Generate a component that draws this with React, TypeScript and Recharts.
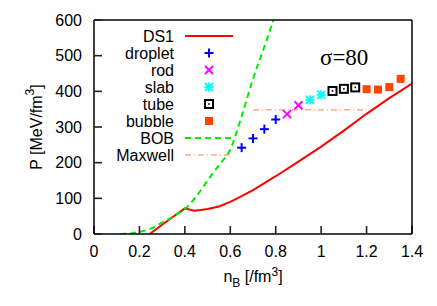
import React from "react";
import { ComposedChart, Line, Scatter, XAxis, YAxis } from "recharts";

const ds1 = [
  { x: 0.245, p: 0 }, { x: 0.3, p: 26 }, { x: 0.35, p: 49 }, { x: 0.4, p: 72 },
  { x: 0.44, p: 65 }, { x: 0.47, p: 67 }, { x: 0.5, p: 70 }, { x: 0.55, p: 77 },
  { x: 0.6, p: 90 }, { x: 0.65, p: 106 }, { x: 0.7, p: 123 }, { x: 0.8, p: 162 },
  { x: 0.9, p: 203 }, { x: 1.0, p: 245 }, { x: 1.1, p: 290 }, { x: 1.2, p: 337 },
  { x: 1.3, p: 381 }, { x: 1.4, p: 422 },
];
const bob = [
  { x: 0.115, p: 0 }, { x: 0.15, p: 1 }, { x: 0.2, p: 6 }, { x: 0.25, p: 15 },
  { x: 0.3, p: 32 }, { x: 0.35, p: 50 }, { x: 0.4, p: 70 }, { x: 0.45, p: 105 },
  { x: 0.5, p: 150 }, { x: 0.55, p: 193 }, { x: 0.6, p: 237 }, { x: 0.65, p: 330 },
  { x: 0.7, p: 435 }, { x: 0.75, p: 525 }, { x: 0.79, p: 600 },
];
const maxwell = [{ x: 0.7, p: 348 }, { x: 1.2, p: 348 }];
const droplet = [{ x: 0.65, p: 242 }, { x: 0.7, p: 268 }, { x: 0.75, p: 294 }, { x: 0.8, p: 321 }];
const rod = [{ x: 0.85, p: 336 }, { x: 0.9, p: 361 }];
const slab = [{ x: 0.95, p: 376 }, { x: 1.0, p: 390 }];
const tube = [{ x: 1.05, p: 401 }, { x: 1.1, p: 407 }, { x: 1.15, p: 411 }];
const bubble = [{ x: 1.2, p: 406 }, { x: 1.25, p: 405 }, { x: 1.3, p: 412 }, { x: 1.35, p: 435 }];

const xTicks = [0, 0.2, 0.4, 0.6, 0.8, 1, 1.2, 1.4];
const yTicks = [0, 100, 200, 300, 400, 500, 600];
const legendNames = ["DS1", "droplet", "rod", "slab", "tube", "bubble", "BOB", "Maxwell"];

const FONT = "'Liberation Sans', Arial, sans-serif";
const C = {
  ds1: "#ff0000", droplet: "#0000ff", rod: "#ff00ff", slab: "#00ffff",
  tube: "#000000", bubble: "#ff4500", bob: "#00ee00", maxwell: "#ff7f50",
};

function Plus({ cx, cy }: any) {
  return (
    <g stroke={C.droplet} strokeWidth={2}>
      <line x1={cx - 4.5} y1={cy} x2={cx + 4.5} y2={cy} />
      <line x1={cx} y1={cy - 4.5} x2={cx} y2={cy + 4.5} />
    </g>
  );
}
function Cross({ cx, cy }: any) {
  return (
    <g stroke={C.rod} strokeWidth={2}>
      <line x1={cx - 4} y1={cy - 4} x2={cx + 4} y2={cy + 4} />
      <line x1={cx - 4} y1={cy + 4} x2={cx + 4} y2={cy - 4} />
    </g>
  );
}
function Star({ cx, cy }: any) {
  return (
    <g stroke={C.slab} strokeWidth={2}>
      <line x1={cx - 4.5} y1={cy} x2={cx + 4.5} y2={cy} />
      <line x1={cx} y1={cy - 4.5} x2={cx} y2={cy + 4.5} />
      <line x1={cx - 4} y1={cy - 4} x2={cx + 4} y2={cy + 4} />
      <line x1={cx - 4} y1={cy + 4} x2={cx + 4} y2={cy - 4} />
    </g>
  );
}
function Box({ cx, cy }: any) {
  return (
    <g>
      <rect x={cx - 4} y={cy - 4} width={8} height={8} fill="none" stroke={C.tube} strokeWidth={2} />
      <rect x={cx - 0.8} y={cy - 0.8} width={1.6} height={1.6} fill={C.tube} />
    </g>
  );
}
function Filled({ cx, cy }: any) {
  return <rect x={cx - 4} y={cy - 4} width={8} height={8} fill={C.bubble} />;
}

const markers: Record<string, any> = { droplet: Plus, rod: Cross, slab: Star, tube: Box, bubble: Filled };

// plot box (from the axes set up below)
const PL = 94, PR = 412, PT = 20, PB = 234;

function KeyBox() {
  const ycx = 36, ycy = (PT + PB) / 2;
  return (
    <svg width={437} height={306} style={{ position: "absolute", left: 0, top: 0, pointerEvents: "none" }}>
      {legendNames.map((name, i) => {
        const y = 36 + i * 17;
        let sample: any = null;
        if (name === "DS1") sample = <line x1={185} y1={y} x2={233} y2={y} stroke={C.ds1} strokeWidth={2} />;
        else if (name === "BOB") sample = <line x1={185} y1={y} x2={233} y2={y} stroke={C.bob} strokeWidth={2} strokeDasharray="6 4" />;
        else if (name === "Maxwell") sample = <line x1={185} y1={y} x2={233} y2={y} stroke={C.maxwell} strokeWidth={1} strokeDasharray="6 3 1 3" />;
        else {
          const M = markers[name];
          sample = <M cx={209} cy={y} />;
        }
        return (
          <g key={name}>
            <text x={174} y={y + 5.5} textAnchor="end" fontSize={16} fontFamily={FONT} fill="#000">{name}</text>
            {sample}
          </g>
        );
      })}
      <text x={320} y={65} fontSize={23} fontFamily="'Liberation Serif', 'Times New Roman', serif" fill="#000">σ=80</text>
      <text x={ycx} y={ycy} transform={`rotate(-90, ${ycx}, ${ycy})`} textAnchor="middle" dominantBaseline="central"
        fontSize={16} fontFamily={FONT} fill="#000">
        P [MeV/fm<tspan dy={-6} fontSize={12}>3</tspan><tspan dy={6}>]</tspan>
      </text>
      <text x={(PL + PR) / 2} y={PB + 48} textAnchor="middle" fontSize={16} fontFamily={FONT} fill="#000">
        n<tspan dy={5} fontSize={12}>B</tspan><tspan dy={-5}> [/fm</tspan><tspan dy={-6} fontSize={12}>3</tspan><tspan dy={6}>]</tspan>
      </text>
    </svg>
  );
}

function BottomTick({ x, y, payload }: any) {
  return <text x={x} y={y} dy={5} textAnchor="middle" fontSize={16} fontFamily={FONT} fill="#000">{String(payload.value)}</text>;
}
function LeftTick({ x, y, payload }: any) {
  return <text x={x} y={y} dy={5.5} textAnchor="end" fontSize={16} fontFamily={FONT} fill="#000">{String(payload.value)}</text>;
}
function NoLabel() {
  return <g />;
}

const axisLine = { stroke: "#000", strokeWidth: 1.5 };
const tickLine = { stroke: "#222", strokeWidth: 1.6 };

export default function App() {
  return (
    <div style={{ position: "absolute", left: 0, top: 0, width: 437, height: 306, background: "#fff" }}>
      <ComposedChart width={437} height={306} margin={{ top: 0, right: 0, bottom: 32, left: 0 }}>
        <XAxis xAxisId="b" type="number" dataKey="x" domain={[0, 1.4]} ticks={xTicks} orientation="bottom"
          height={40} tickSize={-8} tickMargin={26} tick={BottomTick} tickLine={tickLine} axisLine={axisLine}
          allowDataOverflow interval={0} />
        <XAxis xAxisId="t" type="number" dataKey="x" domain={[0, 1.4]} ticks={xTicks} orientation="top" height={20}
          tickSize={-8} tick={NoLabel} tickLine={tickLine} axisLine={axisLine} interval={0} />
        <YAxis yAxisId="l" type="number" dataKey="p" domain={[0, 600]} ticks={yTicks} orientation="left" width={94}
          tickSize={-8} tickMargin={20} tick={LeftTick} tickLine={tickLine} axisLine={axisLine}
          allowDataOverflow interval={0} />
        <YAxis yAxisId="r" type="number" dataKey="p" domain={[0, 600]} ticks={yTicks} orientation="right" width={25}
          tickSize={-8} tick={NoLabel} tickLine={tickLine} axisLine={axisLine} interval={0} />

        <Line xAxisId="b" yAxisId="l" data={ds1} dataKey="p" type="linear" stroke={C.ds1} strokeWidth={2}
          dot={false} isAnimationActive={false} />
        <Line xAxisId="b" yAxisId="l" data={bob} dataKey="p" type="monotone" stroke={C.bob} strokeWidth={2}
          strokeDasharray="6 4" dot={false} isAnimationActive={false} />
        <Line xAxisId="b" yAxisId="l" data={maxwell} dataKey="p" type="linear" stroke={C.maxwell} strokeWidth={1}
          strokeDasharray="6 3 1 3" dot={false} isAnimationActive={false} />
        <Scatter xAxisId="b" yAxisId="l" data={droplet} dataKey="p" shape={Plus} isAnimationActive={false} />
        <Scatter xAxisId="b" yAxisId="l" data={rod} dataKey="p" shape={Cross} isAnimationActive={false} />
        <Scatter xAxisId="b" yAxisId="l" data={slab} dataKey="p" shape={Star} isAnimationActive={false} />
        <Scatter xAxisId="b" yAxisId="l" data={tube} dataKey="p" shape={Box} isAnimationActive={false} />
        <Scatter xAxisId="b" yAxisId="l" data={bubble} dataKey="p" shape={Filled} isAnimationActive={false} />
      </ComposedChart>
      <KeyBox />
    </div>
  );
}
